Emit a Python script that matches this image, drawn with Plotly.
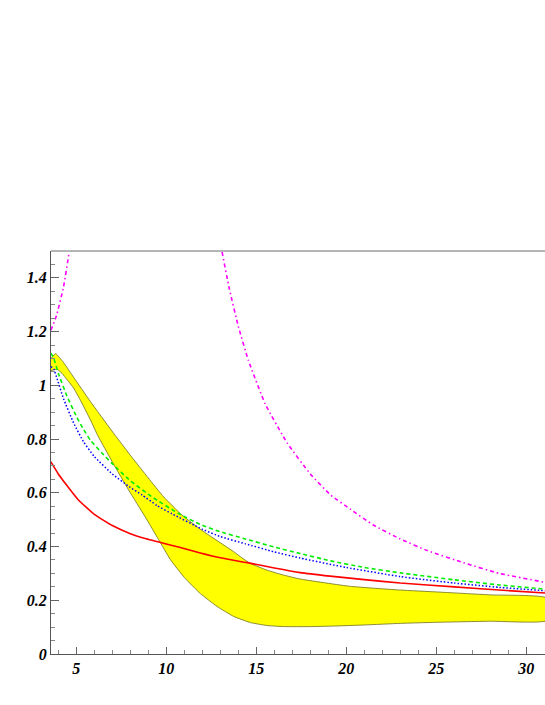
import plotly.graph_objects as go

# ---- data ----
band_upper_x = [3.59, 3.85, 4.29, 4.85, 5.78, 6.98, 8.0, 9.0, 9.85, 10.87, 11.98, 12.82, 13.74, 14.2, 14.67, 15.6, 16.5, 17.44, 20.2, 23.0, 25.0, 28.0, 31.1]
band_upper_y = [1.10, 1.118, 1.085, 1.03, 0.94, 0.83, 0.74, 0.655, 0.585, 0.517, 0.46, 0.422, 0.381, 0.358, 0.337, 0.312, 0.294, 0.279, 0.252, 0.238, 0.231, 0.22, 0.209]
band_lower_x = [3.59, 3.93, 4.2, 4.5, 4.85, 5.2, 5.78, 6.2, 7.0, 7.91, 8.83, 9.57, 10.22, 11.0, 11.89, 12.82, 13.74, 14.67, 15.6, 16.5, 18.0, 19.3, 21.0, 23.0, 25.0, 28.0, 31.1]
band_lower_y = [1.055, 1.06, 1.045, 1.02, 0.99, 0.948, 0.872, 0.812, 0.715, 0.61, 0.51, 0.426, 0.352, 0.285, 0.225, 0.177, 0.14, 0.117, 0.106, 0.102, 0.102, 0.104, 0.108, 0.114, 0.118, 0.122, 0.124]

red_x = [3.59, 4.0, 4.5, 5.13, 6.0, 7.0, 8.0, 8.83, 10.68, 11.89, 13.0, 14.5, 16.0, 17.44, 19.1, 21.0, 23.0, 26.0, 28.5, 31.1]
red_y = [0.715, 0.67, 0.625, 0.572, 0.52, 0.478, 0.448, 0.43, 0.398, 0.376, 0.358, 0.34, 0.32, 0.303, 0.29, 0.277, 0.264, 0.25, 0.238, 0.227]

green_x = [3.59, 3.75, 4.0, 4.48, 5.0, 5.41, 5.78, 6.4, 7.0, 8.0, 9.2, 10.68, 11.89, 13.0, 14.4, 16.0, 17.44, 19.1, 21.0, 23.0, 26.0, 28.5, 31.1]
green_y = [1.12, 1.10, 1.045, 0.96, 0.885, 0.835, 0.796, 0.75, 0.708, 0.645, 0.585, 0.523, 0.482, 0.455, 0.428, 0.398, 0.374, 0.347, 0.322, 0.302, 0.276, 0.257, 0.241]

blue_x = [3.59, 3.75, 3.93, 4.29, 4.85, 5.4, 6.0, 7.0, 8.0, 8.65, 9.5, 10.31, 11.98, 13.0, 14.4, 16.0, 17.44, 20.0, 23.0, 26.0, 28.5, 31.1]
blue_y = [1.07, 1.06, 1.025, 0.95, 0.86, 0.79, 0.735, 0.67, 0.62, 0.592, 0.552, 0.522, 0.465, 0.437, 0.41, 0.38, 0.357, 0.322, 0.288, 0.264, 0.248, 0.235]

magenta1_x = [3.59, 3.9, 4.29, 4.61, 4.8]
magenta1_y = [1.205, 1.26, 1.366, 1.50, 1.60]
magenta2_x = [12.9, 13.09, 13.5, 14.0, 14.56, 15.5, 16.72, 18.0, 19.11, 20.2, 21.5, 23.0, 24.5, 26.5, 28.5, 31.1]
magenta2_y = [1.58, 1.50, 1.36, 1.22, 1.093, 0.93, 0.785, 0.67, 0.593, 0.54, 0.48, 0.428, 0.385, 0.34, 0.30, 0.266]

x_tickvals = [5, 10, 15, 20, 25, 30]
x_ticktext = ["5", "10", "15", "20", "25", "30"]
y_tickvals = [0, 0.2, 0.4, 0.6, 0.8, 1.0, 1.2, 1.4]
y_ticktext = ["0", "0.2", "0.4", "0.6", "0.8", "1", "1.2", "1.4"]

fig = go.Figure()

line_shape = dict(shape="spline", smoothing=0.4)

fig.add_trace(go.Scatter(
    x=band_upper_x + band_lower_x[::-1],
    y=band_upper_y + band_lower_y[::-1],
    fill="toself", fillcolor="#ffff00",
    line=dict(color="#6e6e1e", width=0.8, **line_shape),
    mode="lines", hoverinfo="skip"))

fig.add_trace(go.Scatter(x=red_x, y=red_y, mode="lines",
                         line=dict(color="#ff0000", width=1.6, **line_shape)))
fig.add_trace(go.Scatter(x=blue_x, y=blue_y, mode="lines",
                         line=dict(color="#0000ff", width=1.5, dash="1.5px,2px", **line_shape)))
fig.add_trace(go.Scatter(x=green_x, y=green_y, mode="lines",
                         line=dict(color="#00ee00", width=1.6, dash="4px,3px", **line_shape)))
fig.add_trace(go.Scatter(x=magenta1_x, y=magenta1_y, mode="lines",
                         line=dict(color="#ff00ff", width=1.6, dash="4px,3px,1.5px,3px", **line_shape)))
fig.add_trace(go.Scatter(x=magenta2_x, y=magenta2_y, mode="lines",
                         line=dict(color="#ff00ff", width=1.6, dash="4px,3px,1.5px,3px", **line_shape)))

tickfont = dict(family="Liberation Serif", size=16, color="black", weight="bold", style="italic")

fig.update_layout(
    width=545, height=705,
    margin=dict(l=51, r=0, t=251, b=51, autoexpand=False),
    paper_bgcolor="white", plot_bgcolor="white",
    showlegend=False,
    hovermode=False,
    xaxis=dict(range=[3.594, 31.04], showgrid=False, zeroline=False, automargin=False,
               showline=True, linecolor="#555555", linewidth=1.2,
               tickmode="array", tickvals=x_tickvals, ticktext=x_ticktext,
               ticks="inside", ticklen=7, tickcolor="#666666", tickwidth=1,
               minor=dict(ticks="inside", ticklen=4, dtick=1, tick0=0, tickcolor="#888888", showgrid=False),
               tickfont=tickfont),
    yaxis=dict(range=[0, 1.5], showgrid=False, zeroline=False, automargin=False,
               showline=True, linecolor="#555555", linewidth=1.2,
               tickmode="array", tickvals=y_tickvals, ticktext=y_ticktext,
               ticks="inside", ticklen=8, tickcolor="#666666", tickwidth=1,
               minor=dict(ticks="inside", ticklen=4, dtick=0.05, tick0=0, tickcolor="#888888", showgrid=False),
               tickfont=tickfont),
    shapes=[dict(type="line", xref="paper", yref="paper", x0=0, x1=1, y0=1, y1=1,
                 line=dict(color="#b5b5b5", width=2))],
)

# remove the page's default 8px body margin so the figure fills the window exactly
fig.write_html("out.html",
               config={"displayModeBar": False},
               post_script="document.body.style.margin='0';document.body.style.overflow='hidden';")
